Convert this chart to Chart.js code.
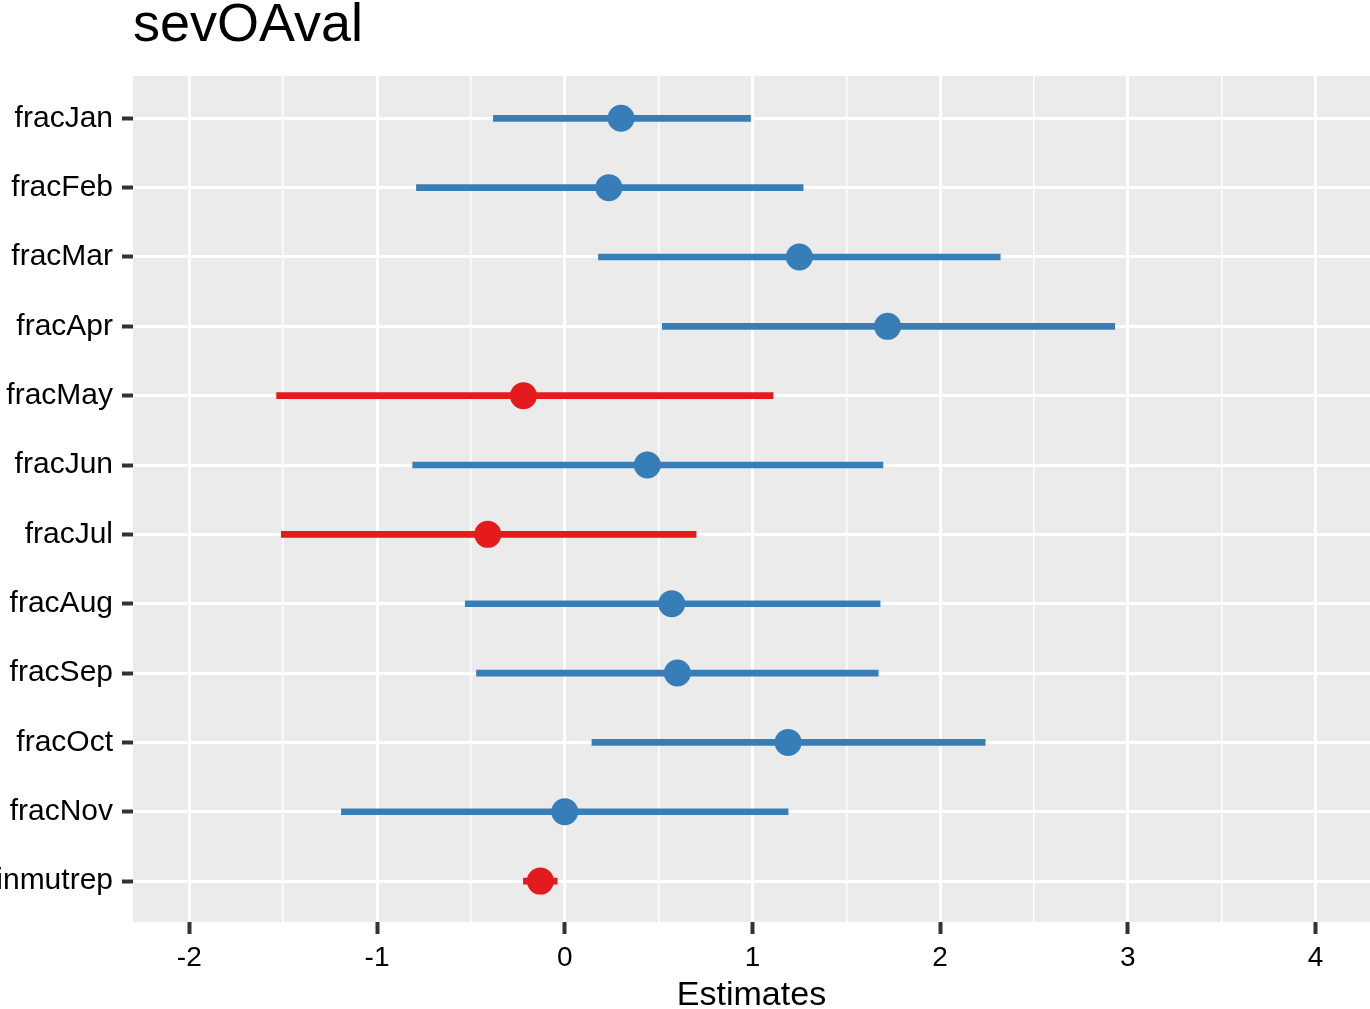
<!DOCTYPE html>
<html>
<head>
<meta charset="utf-8">
<script src="https://cdn.jsdelivr.net/npm/chart.js@4.4.0/dist/chart.umd.min.js"></script>
<style>
  html, body { margin: 0; padding: 0; background: #ffffff; overflow: hidden; }
  canvas { display: block; }
</style>
</head>
<body>
<canvas id="c" width="1370" height="1009" style="width:1370px;height:1009px"></canvas>
<script>
const titleText = "sevOAval";
const axisTitle = "Estimates";
const terms = ["fracJan","fracFeb","fracMar","fracApr","fracMay","fracJun","fracJul","fracAug","fracSep","fracOct","fracNov","inmutrep"];
const estimates = [0.30, 0.235, 1.25, 1.72, -0.22, 0.44, -0.41, 0.57, 0.60, 1.19, 0.00, -0.13];
const ciLow     = [-0.38, -0.79, 0.18, 0.52, -1.535, -0.81, -1.51, -0.53, -0.47, 0.145, -1.19, -0.22];
const ciHigh    = [0.99, 1.27, 2.32, 2.93, 1.11, 1.695, 0.70, 1.68, 1.67, 2.24, 1.19, -0.04];
const xTicks = [-2, -1.5, -1, -0.5, 0, 0.5, 1, 1.5, 2, 2.5, 3, 3.5, 4];

const BLUE = "#377EB8", RED = "#E41A1C";
const colors = estimates.map(v => v < 0 ? RED : BLUE);
const FONT = "'Liberation Sans', Arial, Helvetica, sans-serif";

const panelBg = {
  id: 'panelBg',
  beforeDraw(chart) {
    const {ctx, chartArea: a} = chart;
    ctx.save();
    ctx.fillStyle = '#EBEBEB';
    ctx.fillRect(a.left, a.top, a.right - a.left, a.bottom - a.top);
    ctx.restore();
  },
  afterDraw(chart) {
    const {ctx, chartArea: a} = chart;
    ctx.save();
    ctx.fillStyle = '#000000';
    ctx.textBaseline = 'alphabetic';
    ctx.textAlign = 'left';
    ctx.font = "54px " + FONT;
    ctx.fillText(titleText, a.left, 41);
    ctx.textAlign = 'center';
    ctx.textBaseline = 'middle';
    ctx.font = "34px " + FONT;
    ctx.fillText(axisTitle, (a.left + a.right) / 2, 996);
    ctx.restore();
  }
};

new Chart(document.getElementById('c'), {
  type: 'bar',
  data: {
    datasets: [
      {
        type: 'scatter',
        data: terms.map((t, i) => ({x: estimates[i], y: i})),
        pointRadius: 13.5,
        pointHoverRadius: 13.5,
        pointBackgroundColor: colors,
        pointBorderWidth: 0,
        order: 0
      },
      {
        type: 'bar',
        data: terms.map((t, i) => ({x: [ciLow[i], ciHigh[i]], y: i})),
        backgroundColor: colors,
        borderWidth: 0,
        barThickness: 6,
        order: 1
      }
    ]
  },
  options: {
    indexAxis: 'y',
    responsive: false,
    devicePixelRatio: 1,
    animation: false,
    events: [],
    layout: { autoPadding: false, padding: { top: 76, right: 0, left: 0, bottom: 0 } },
    plugins: { legend: { display: false }, tooltip: { enabled: false }, title: { display: false } },
    scales: {
      x: {
        type: 'linear',
        min: -2.3,
        max: 4.29,
        afterBuildTicks(scale) { scale.ticks = xTicks.map(v => ({value: v})); },
        afterFit(scale) { scale.height = 87; scale.paddingLeft = 0; scale.paddingRight = 0; },
        border: { display: false },
        grid: {
          color: '#FFFFFF',
          lineWidth: c => (c.tick && Number.isInteger(c.tick.value)) ? 3 : 1.5,
          drawTicks: true,
          tickLength: 12,
          tickWidth: 4,
          tickColor: c => (c.tick && Number.isInteger(c.tick.value)) ? '#333333' : 'rgba(0,0,0,0)'
        },
        ticks: {
          autoSkip: false,
          maxRotation: 0,
          padding: 7,
          color: '#000000',
          font: { family: FONT, size: 28 },
          callback: v => Number.isInteger(v) ? String(v) : ''
        }
      },
      y: {
        type: 'linear',
        reverse: true,
        offset: false,
        min: -0.61,
        max: 11.59,
        afterBuildTicks(scale) { scale.ticks = terms.map((t, i) => ({value: i})); },
        afterFit(scale) { scale.width = 133; scale.paddingTop = 0; scale.paddingBottom = 0; },
        border: { display: false },
        grid: {
          offset: false,
          color: '#FFFFFF',
          lineWidth: 3,
          drawTicks: true,
          tickLength: 11,
          tickWidth: 4,
          tickColor: '#333333'
        },
        ticks: {
          autoSkip: false,
          padding: 9,
          color: '#000000',
          font: { family: FONT, size: 30 },
          callback: v => terms[v] !== undefined ? terms[v] : ''
        }
      }
    }
  },
  plugins: [panelBg]
});
</script>
</body>
</html>
